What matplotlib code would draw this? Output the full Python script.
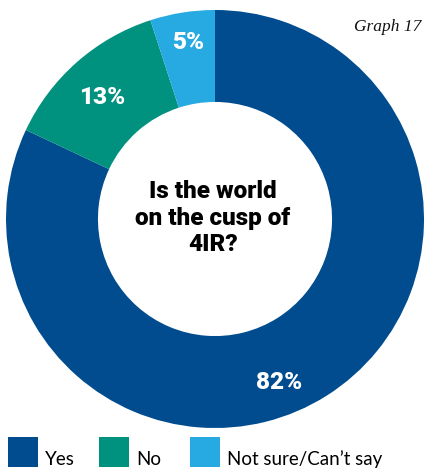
import matplotlib
matplotlib.use("Agg")
import matplotlib.pyplot as plt
from matplotlib.patches import Rectangle
import numpy as np

categories = ["Yes", "No", "Not sure/Can\u2019t say"]
values = [82, 13, 5]
colors = ["#004C8F", "#00917F", "#27A9E1"]
center_title = "Is the world\non the cusp of\n4IR?"
graph_label = "Graph 17"

W, H = 426, 469
fig = plt.figure(figsize=(W / 100, H / 100), dpi=100)
ax = fig.add_axes([0, 0, 1, 1])

cx, cy, R = 215, H - 219, 209
wedges, texts = ax.pie(values, colors=colors, startangle=90, counterclock=False,
                       center=(cx, cy), radius=R,
                       wedgeprops=dict(width=R * 0.44, linewidth=0),
                       frame=True)
ax.set_xlim(0, W)
ax.set_ylim(0, H)
ax.set_aspect("equal")
ax.axis("off")

# label placement: (radius fraction, angular shift in degrees from wedge middle)
label_place = [(0.84, -11), (0.795, 1.5), (0.855, -0.3)]
ang = 90
for v, (r, shift) in zip(values, label_place):
    mid = ang - v / 100 * 360 / 2 + shift
    ang -= v / 100 * 360
    x = cx + R * r * np.cos(np.radians(mid))
    y = cy + R * r * np.sin(np.radians(mid))
    ax.text(x, y, f"{v}%", color="white", fontsize=17.5, fontweight=900,
            family="Roboto", ha="center", va="center")

ax.text(cx - 2, cy + 1, center_title, ha="center", va="center", fontsize=17.5,
        fontweight=900, family="Roboto", linespacing=1.2, color="black")

ax.text(421, H - 27, graph_label, ha="right", va="center", fontsize=12.5,
        family="Liberation Serif", style="italic", color="#111111")

leg_x = [8, 99, 190]
for x0, cat, col in zip(leg_x, categories, colors):
    ax.add_patch(Rectangle((x0, H - 467), 30, 30, color=col, lw=0))
    ax.text(x0 + 37, H - 468, cat, ha="left", va="bottom", fontsize=13.5,
            family="Lato", color="black")

fig.savefig("out.png", dpi=100)
